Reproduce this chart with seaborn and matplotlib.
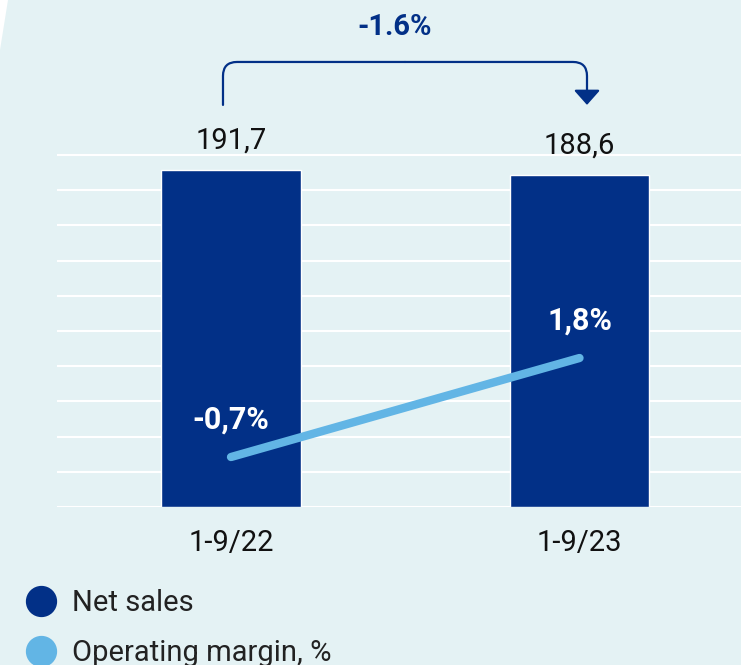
import matplotlib.pyplot as plt
import seaborn as sns
import numpy as np
from matplotlib.lines import Line2D
from matplotlib.patches import Polygon

sns.set_style("white")
plt.rcParams['font.family'] = ['Roboto', 'DejaVu Sans']

periods = ["1-9/22", "1-9/23"]
net_sales = [191.7, 188.6]
op_margin = [-0.7, 1.8]
change_label = "-1.6%"
legend_labels = ["Net sales", "Operating margin, %"]

bg = "#e4f2f4"
dark_blue = "#023087"
light_blue = "#62b5e5"

fig = plt.figure(figsize=(7.41, 6.65), dpi=100, facecolor=bg)
ax = fig.add_axes([57 / 741, 158 / 665, 684 / 741, 507 / 665])
ax.set_facecolor(bg)

# bars
sns.barplot(x=periods, y=net_sales, color=dark_blue, width=0.4, saturation=1, ax=ax)
ax.set_xlim(-0.4993, 1.4634)
ax.set_ylim(0, 288)
ax.set_yticks(np.arange(0, 201, 20))
ax.yaxis.grid(True, color="white", linewidth=1.5)
ax.set_axisbelow(True)
ax.set_xlabel("")
ax.set_ylabel("")
sns.despine(ax=ax, left=True, bottom=True)

for i, v in enumerate(net_sales):
    ax.annotate(f"{v:.1f}".replace(".", ","), (i, v), xytext=(0, 11), textcoords="offset points",
                ha="center", va="bottom", fontsize=21, color="#111111")

# operating margin line on second axis
ax2 = ax.twinx()
xpos = np.arange(len(periods))
sns.lineplot(x=xpos, y=op_margin, color=light_blue, linewidth=6, ax=ax2,
             solid_capstyle="round")
ax2.set_ylim(-1.962, 10.84)
ax2.set_xlim(-0.4993, 1.4634)
ax2.axis("off")

# twinx turns the left ticks back on
ax.tick_params(axis="y", left=False, right=False, labelleft=False)
ax.tick_params(axis="x", length=0, pad=16, labelsize=21, labelcolor="#111111")

for i, v in enumerate(op_margin):
    ax2.annotate(f"{v:.1f}%".replace(".", ","), (i, v), xytext=(0, 27), textcoords="offset points",
                 ha="center", va="center", fontsize=22, fontweight="bold", color="white")

# change bracket
y_low, y_top = 228.4, 252.8
x_l, x_r = -0.023, 1.0215
x_m = (x_l + x_r) / 2
ax.annotate("", xy=(x_m, y_top), xytext=(x_l, y_low),
            arrowprops=dict(arrowstyle="-", color=dark_blue, lw=1.6, shrinkA=0, shrinkB=0,
                            connectionstyle="angle,angleA=90,angleB=0,rad=14"),
            annotation_clip=False)
ax.annotate("", xy=(x_r, y_low), xytext=(x_m, y_top),
            arrowprops=dict(arrowstyle="-|>,head_length=0.45,head_width=0.4", mutation_scale=20,
                            color=dark_blue, lw=1.6, shrinkA=0, shrinkB=0,
                            connectionstyle="angle,angleA=0,angleB=90,rad=14"),
            annotation_clip=False)
fig.text(395 / 741, 1 - 27 / 665, change_label, ha="center", va="center",
         fontsize=21, fontweight="bold", color=dark_blue)

# legend
handles = [Line2D([], [], marker="o", linestyle="none", markersize=21.5, color=c)
           for c in [dark_blue, light_blue]]
fig.legend(handles, legend_labels, loc="upper left", bbox_to_anchor=(26 / 741, 1 - 589 / 665),
           frameon=False, fontsize=21, labelcolor="#222222", borderpad=0, borderaxespad=0,
           handlelength=1.0, handletextpad=0.56, labelspacing=0.75)

# white wedge at top-left corner
fig.patches.append(Polygon([[0, 665], [8, 665], [0, 615]], closed=True, transform=None,
                           facecolor="white", edgecolor="none"))

fig.savefig("out.png", dpi=100, facecolor=bg)
